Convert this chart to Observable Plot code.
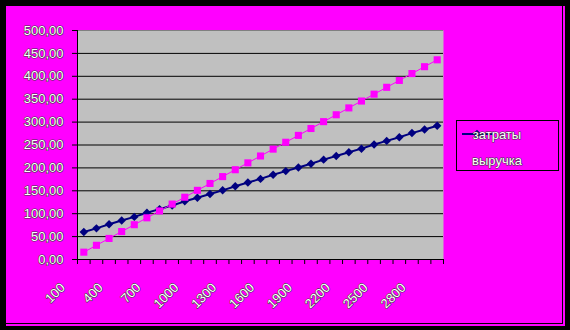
<!DOCTYPE html>
<html><head><meta charset="utf-8">
<script src="https://cdn.jsdelivr.net/npm/d3@7"></script>
<script src="https://cdn.jsdelivr.net/npm/@observablehq/plot@0.6"></script>
<style>
html,body{margin:0;padding:0;background:#000;}
#wrap{position:relative;width:570px;height:330px;background:#000;overflow:hidden;font-family:Arial,"Liberation Sans",sans-serif;}
#bg{position:absolute;left:6px;top:6px;width:559px;height:320px;background:#ff00ff;}
#edge{position:absolute;left:6px;top:6px;width:556px;height:317px;border-right:1px solid #000;border-bottom:1px solid #000;}
#chart{position:absolute;left:0;top:0;}
</style></head><body>
<div id="wrap"><div id="bg"></div><div id="edge"></div><div id="chart"></div></div>
<script>
const volumes = [100,200,300,400,500,600,700,800,900,1000,1100,1200,1300,1400,1500,1600,1700,1800,1900,2000,2100,2200,2300,2400,2500,2600,2700,2800,2900];
const costs = [60,68,77,85,93,102,110,118,127,135,143,151,160,168,176,185,193,201,209,218,226,234,242,251,259,267,276,284,292];
const revenue = [16,31,46,61,76,91,106,121,136,151,166,181,196,211,226,241,256,271,286,301,316,331,346,361,376,391,406,421,436];
const yTicks = [0,50,100,150,200,250,300,350,400,450,500];
const xLabelValues = [100,400,700,1000,1300,1600,1900,2200,2500,2800];
const seriesNames = ["затраты","выручка"];
const seriesColors = ["#000080","#ff00ff"];

const data = volumes.map((v,i)=>({x:v, cost:costs[i], revenue:revenue[i]}));
const half = (volumes[1]-volumes[0])/2;
const bounds = [volumes[0]-half, ...volumes.map(v=>v+half)];
const fmt = d => d.toFixed(2).replace(".", ",");
const FONT = 'Arial, "Liberation Sans", sans-serif';
const TXT_STROKE = "#3a3a3a", TXT_SW = 1.1;

const plot = Plot.plot({
  width:570, height:330,
  marginLeft:77, marginRight:127, marginTop:30, marginBottom:71,
  style:{background:"transparent", fontFamily:FONT, fontSize:"13px", overflow:"visible"},
  x:{type:"linear", domain:[bounds[0], bounds[bounds.length-1]]},
  y:{domain:[0,500]},
  marks:[
    Plot.frame({fill:"#c0c0c0", stroke:null}),
    Plot.ruleY(yTicks.filter(t=>t>0 && t<500), {stroke:"#000", strokeWidth:1}),
    Plot.ruleY([500], {stroke:"#808080"}),
    Plot.axisY({ticks:yTicks, tickSize:5, tickPadding:9, tickFormat:fmt, label:null, stroke:"#000", fill:"#fff", textStroke:TXT_STROKE, textStrokeWidth:TXT_SW, fontSize:13}),
    Plot.axisX({ticks:bounds, tickSize:5, tickFormat:()=>"", label:null, stroke:"#000"}),
    Plot.frame({anchor:"left", stroke:"#000"}),
    Plot.frame({anchor:"bottom", stroke:"#000"}),
    Plot.text(xLabelValues, {x:d=>d, text:d=>String(d), frameAnchor:"bottom", rotate:-45, textAnchor:"end", lineAnchor:"middle", dx:-21, dy:26, fill:"#fff", stroke:TXT_STROKE, strokeWidth:TXT_SW, fontSize:13}),
    Plot.line(data, {x:"x", y:"cost", stroke:seriesColors[0], strokeWidth:2}),
    Plot.dot(data, {x:"x", y:"cost", symbol:"diamond2", r:3.8, fill:seriesColors[0], stroke:null}),
    Plot.line(data, {x:"x", y:"revenue", stroke:seriesColors[1], strokeWidth:1}),
    Plot.dot(data, {x:"x", y:"revenue", symbol:"square", r:4, fill:seriesColors[1], stroke:null})
  ]
});
document.getElementById("chart").appendChild(plot);

// legend
const svg = d3.select(plot);
const lg = svg.append("g");
lg.append("rect").attr("x",456.5).attr("y",120.5).attr("width",102).attr("height",50)
  .attr("fill","none").attr("stroke","#000");
const symbols = [d3.symbol(d3.symbolDiamond2, Math.PI*3.8*3.8), d3.symbol(d3.symbolSquare, Math.PI*16)];
seriesNames.forEach((name,i)=>{
  const y = 134 + i*26;
  lg.append("line").attr("x1",462).attr("x2",493).attr("y1",y).attr("y2",y)
    .attr("stroke",seriesColors[i]).attr("stroke-width", i===0?2:1);
  lg.append("path").attr("d",symbols[i]()).attr("transform",`translate(477,${y})`).attr("fill",seriesColors[i]);
  lg.append("text").attr("x",497).attr("y",y).attr("dy","0.35em")
    .attr("font-family",FONT).attr("font-size",13)
    .attr("fill","#fff").attr("stroke",TXT_STROKE).attr("stroke-width",TXT_SW)
    .attr("paint-order","stroke").attr("stroke-linejoin","round")
    .text(name);
});
</script>
</body></html>
